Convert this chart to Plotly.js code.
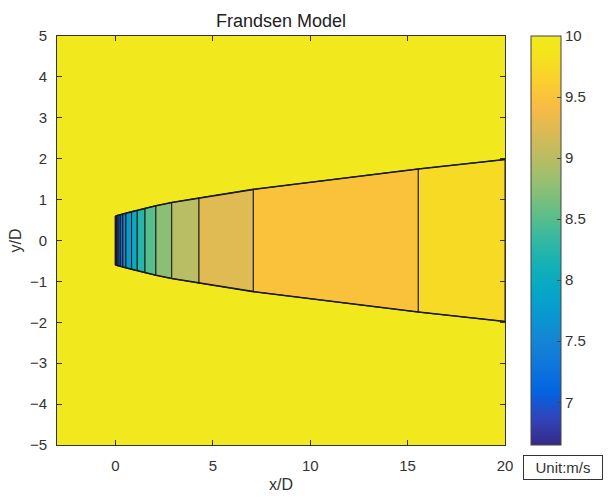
<!DOCTYPE html>
<html>
<head>
<meta charset="utf-8">
<script src="https://cdn.plot.ly/plotly-3.0.1.min.js"></script>
<style>html,body{margin:0;padding:0;background:#fff;}#plot{width:608px;height:497px;}</style>
</head>
<body>
<div id="plot"></div>
<script>
// ---- data ----
// x/D positions of the contour boundaries inside the wake
const bandEdges = [0, 0.05, 0.14, 0.25, 0.38, 0.54, 0.83, 1.12, 1.52, 2.08, 2.89, 4.29, 7.08, 15.55, 20];
// wake half-width (y/D) at each boundary
const bandHalfWidth = [0.60, 0.61, 0.62, 0.63, 0.65, 0.67, 0.71, 0.74, 0.79, 0.85, 0.93, 1.04, 1.25, 1.75, 1.98];
// wind speed level (m/s) filling each band between two boundaries
const bandLevels = [6.65, 6.75, 7.0, 7.25, 7.5, 7.75, 8.0, 8.25, 8.5, 8.75, 9.0, 9.25, 9.5, 9.75];
// free-stream speed outside the wake
const freeStream = 10;
const speedMin = 6.65, speedMax = 10;
const xRange = [-3, 20], yRange = [-5, 5];
const xTicks = [0, 5, 10, 15, 20];
const yTicks = [-5, -4, -3, -2, -1, 0, 1, 2, 3, 4, 5];
const cbTicks = [7, 7.5, 8, 8.5, 9, 9.5, 10];

// parula colormap (style)
const parula = [
 [0.2081,0.1663,0.5292],[0.1959,0.2645,0.7279],[0.0117,0.3875,0.8820],[0.0498,0.4586,0.8641],
 [0.0793,0.5200,0.8312],[0.0343,0.5966,0.8199],[0.0228,0.6535,0.7768],[0.0843,0.6928,0.7062],
 [0.2178,0.7250,0.6193],[0.3953,0.7459,0.5244],[0.5709,0.7485,0.4494],[0.7184,0.7411,0.3905],
 [0.8507,0.7299,0.3360],[0.9739,0.7314,0.2666],[0.9880,0.8066,0.1794],[0.9550,0.8900,0.1100],
 [0.9450,0.9150,0.1150]];
const pos = [0,4,8,12,16,20,24,28,32,36,40,44,48,52,56,60,63].map(i=>i/63);
const colorscale = parula.map((c,i)=>[pos[i], 'rgb('+c.map(v=>Math.round(v*255)).join(',')+')']);
function colorAt(v){
  let t = (v - speedMin)/(speedMax - speedMin);
  t = Math.max(0, Math.min(1, t));
  for (let i=1;i<pos.length;i++){
    if (t <= pos[i]){
      const f = (t-pos[i-1])/(pos[i]-pos[i-1]);
      const a = parula[i-1], b = parula[i];
      return 'rgb('+[0,1,2].map(k=>Math.round((a[k]+(b[k]-a[k])*f)*255)).join(',')+')';
    }
  }
  const c = parula[parula.length-1];
  return 'rgb('+c.map(v=>Math.round(v*255)).join(',')+')';
}

const FAM = 'Liberation Sans, Arial, sans-serif';
const tickFont = {family:FAM, size:15, color:'#333'};

const traces = [];
// background field (free stream) with colorbar
traces.push({
  type:'heatmap', x: xRange, y: yRange, z: [[freeStream]],
  zmin: speedMin, zmax: speedMax, colorscale: colorscale, hoverinfo:'skip',
  colorbar: {
    x: 1.058, xanchor:'left', xpad:0, ypad:0, y:0.5, len:1, lenmode:'fraction',
    thickness:30, thicknessmode:'pixels', outlinewidth:1, outlinecolor:'#444',
    tickvals: cbTicks, ticktext: cbTicks.map(String), ticks:'inside', ticklen:4, tickcolor:'#444',
    ticklabelstandoff:10, tickfont:tickFont
  }
});
// wake bands
for (let i=0;i<bandLevels.length;i++){
  const x0 = bandEdges[i], x1 = bandEdges[i+1];
  const h0 = bandHalfWidth[i], h1 = bandHalfWidth[i+1];
  traces.push({
    type:'scatter', mode:'lines', fill:'toself', fillcolor: colorAt(bandLevels[i]),
    x:[x0, x1, x1, x0, x0], y:[h0, h1, -h1, -h0, h0],
    line:{color:'#1a1a1a', width:1}, hoverinfo:'skip', showlegend:false
  });
}
// wake outline
traces.push({type:'scatter', mode:'lines', x: bandEdges, y: bandHalfWidth, line:{color:'#1a1a1a', width:1.6}, hoverinfo:'skip', showlegend:false});
traces.push({type:'scatter', mode:'lines', x: bandEdges, y: bandHalfWidth.map(v=>-v), line:{color:'#1a1a1a', width:1.6}, hoverinfo:'skip', showlegend:false});
traces.push({type:'scatter', mode:'lines', x: [bandEdges[0], bandEdges[0]], y: [-bandHalfWidth[0], bandHalfWidth[0]], line:{color:'#1a1a1a', width:1.6}, hoverinfo:'skip', showlegend:false});

const layout = {
  width:608, height:497,
  margin:{l:57, r:103, t:36, b:52},
  paper_bgcolor:'#fff', plot_bgcolor:'#fff',
  showlegend:false,
  font: tickFont,
  title:{text:'Frandsen Model', xref:'paper', x:0.5, xanchor:'center', yref:'container', y:0.958, yanchor:'middle', font:{family:FAM, size:18, color:'#222'}},
  xaxis:{range:xRange, tickvals:xTicks, ticks:'inside', ticklen:5, tickcolor:'#333',
    showline:true, linecolor:'#333', linewidth:1, mirror:'ticks', showgrid:false, zeroline:false,
    tickfont:tickFont, ticklabelstandoff:7,
    title:{text:'x/D', font:{family:FAM, size:16, color:'#333'}, standoff:5}},
  yaxis:{range:yRange, tickvals:yTicks, ticks:'inside', ticklen:5, tickcolor:'#333',
    showline:true, linecolor:'#333', linewidth:1, mirror:'ticks', showgrid:false, zeroline:false,
    tickfont:tickFont, ticklabelstandoff:6,
    title:{text:'y/D', font:{family:FAM, size:16, color:'#333'}, standoff:4}},
  annotations:[{
    xref:'paper', yref:'paper', x:1.13, y:-0.0538, xanchor:'center', yanchor:'middle',
    text:'Unit:m/s', showarrow:false, bordercolor:'#333', borderwidth:1, borderpad:2,
    bgcolor:'#fff', width:74, height:19, font:tickFont
  }]
};
Plotly.newPlot('plot', traces, layout, {staticPlot:true, displayModeBar:false});
</script>
</body>
</html>
